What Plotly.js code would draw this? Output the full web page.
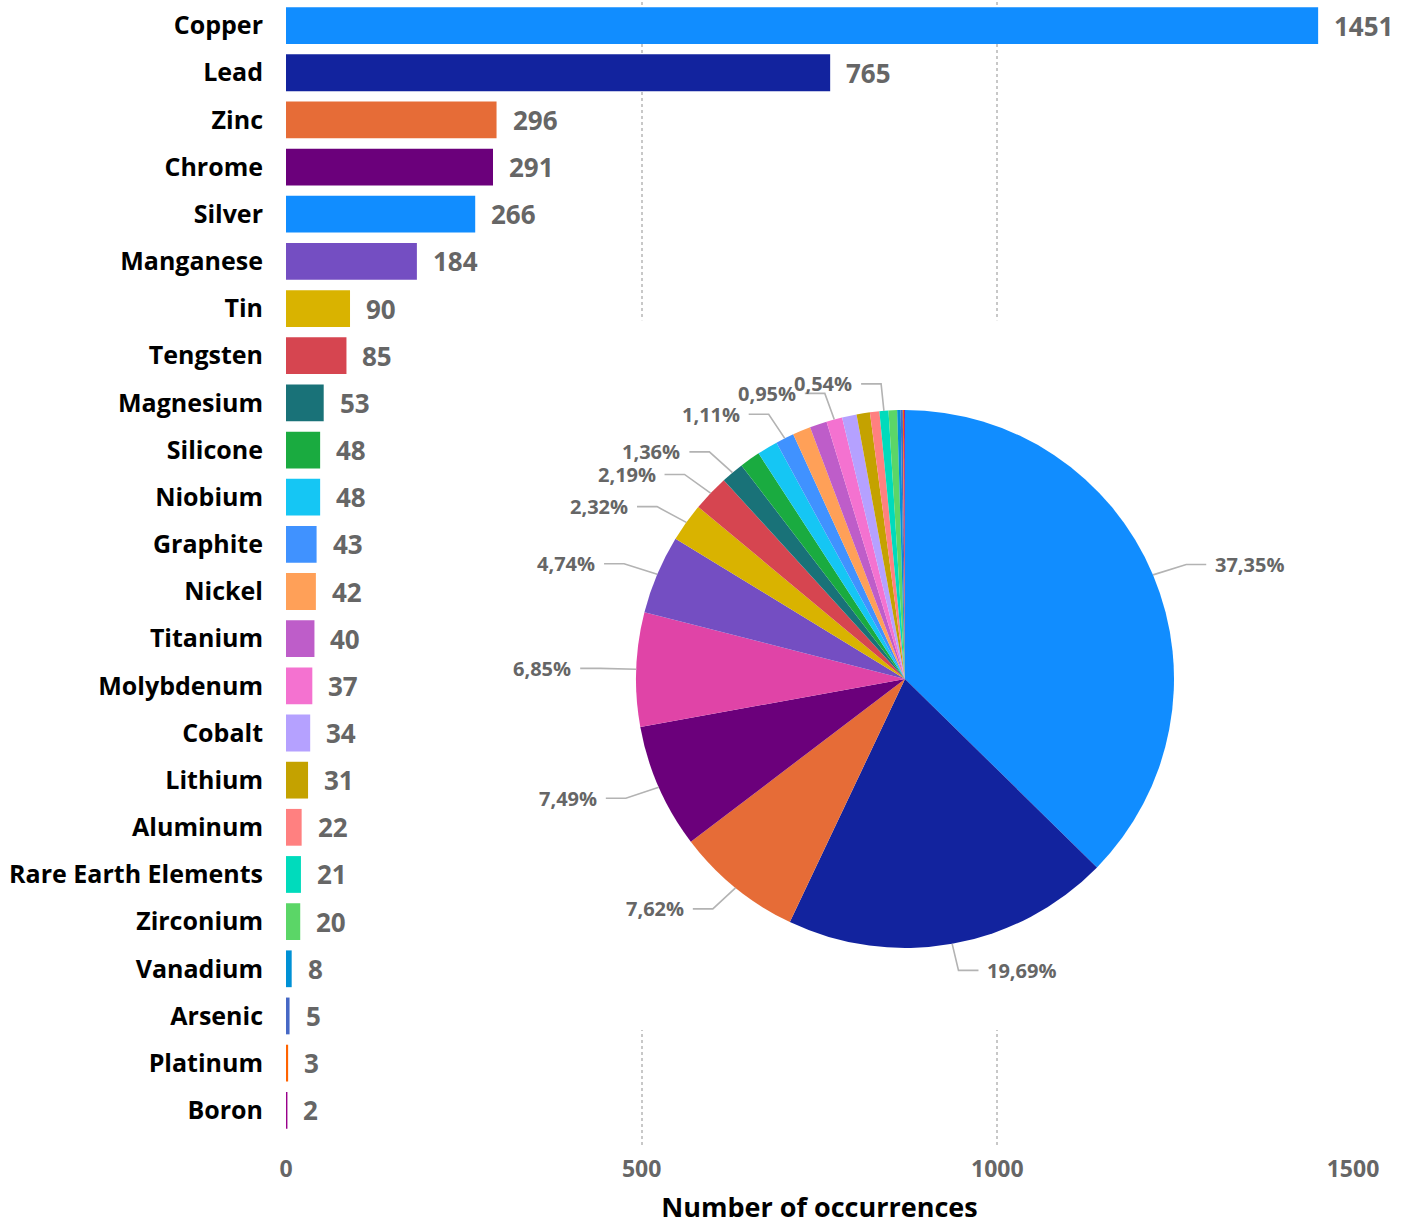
<!DOCTYPE html>
<html>
<head>
<meta charset="utf-8">
<script src="https://cdn.plot.ly/plotly-3.0.1.min.js"></script>
<style>html,body{margin:0;padding:0;background:#fff;}#chart{width:1409px;height:1225px;}</style>
</head>
<body>
<div id="chart"></div>
<script>
// ---------- data ----------
const categories = ["Copper","Lead","Zinc","Chrome","Silver","Manganese","Tin","Tengsten","Magnesium","Silicone","Niobium","Graphite","Nickel","Titanium","Molybdenum","Cobalt","Lithium","Aluminum","Rare Earth Elements","Zirconium","Vanadium","Arsenic","Platinum","Boron"];
const counts = [1451,765,296,291,266,184,90,85,53,48,48,43,42,40,37,34,31,22,21,20,8,5,3,2];
const barColors = ["#118DFF","#12239E","#E66C37","#6B007B","#118DFF","#744EC2","#D9B300","#D64550","#197278","#1AAB40","#15C6F4","#4092FF","#FFA058","#BE5DC9","#F472D0","#B5A1FF","#C4A200","#FF8080","#00DBBC","#5BD667","#0091D5","#4668C5","#FF6300","#99008A"];
const pieColors = ["#118DFF","#12239E","#E66C37","#6B007B","#E044A7","#744EC2","#D9B300","#D64550","#197278","#1AAB40","#15C6F4","#4092FF","#FFA058","#BE5DC9","#F472D0","#B5A1FF","#C4A200","#FF8080","#00DBBC","#5BD667","#0091D5","#4668C5","#FF6300","#99008A"];
const pieLabelShown = [true,true,true,true,true,true,true,true,true,false,false,true,false,false,true,false,false,false,true,false,false,false,false,false];
const xTickVals = [0,500,1000,1500];
const xTitle = "Number of occurrences";

// ---------- geometry (pixels) ----------
const W = 1409, H = 1225;
const M = {l:286, r:56, t:2, b:77};
const PW = W - M.l - M.r, PH = H - M.t - M.b;
const pie = {cx:905, cy:679, r:269};
const px2x = p => (p - M.l) / PW;
const py2y = p => 1 - (p - M.t) / PH;

const FONT = '"Open Sans", "Noto Sans", sans-serif';
const GRAY = '#666666';

// bar chart
const barTrace = {
  type:'bar', orientation:'h',
  x: counts, y: categories,
  marker:{color: barColors, line:{width:0}},
  width: 0.78,
  hoverinfo:'skip', showlegend:false
};

// pie
const pieTrace = {
  type:'pie', labels: categories, values: counts,
  sort:false, direction:'clockwise', rotation:0,
  marker:{colors: pieColors, line:{width:0}},
  textinfo:'none', hoverinfo:'skip', showlegend:false,
  domain:{x:[px2x(pie.cx - pie.r), px2x(pie.cx + pie.r)], y:[py2y(pie.cy + pie.r), py2y(pie.cy - pie.r)]}
};

const annotations = [];
const shapes = [];

// value labels next to bars
categories.forEach((c,i) => {
  annotations.push({
    xref:'x', yref:'y', x: counts[i], y: c, text: String(counts[i]),
    xanchor:'left', yanchor:'middle', xshift:14, showarrow:false,
    font:{family:FONT, size:26, color:GRAY, weight:700}
  });
});

// white panel behind the pie (hides grid lines, like the overlaid visual)
shapes.push({type:'rect', xref:'x', yref:'y', x0:230, x1:1420, y0:6.25, y1:21.3,
  fillcolor:'#ffffff', line:{width:0}, layer:'between'});

// pie labels with leader lines
const total = counts.reduce((a,b)=>a+b,0);
let cum = 0;
counts.forEach((v,i) => {
  const mid = (cum + v/2) / total;
  cum += v;
  if (!pieLabelShown[i]) return;
  const th = mid * 2 * Math.PI;
  const s = Math.sin(th), co = Math.cos(th);
  const ex = pie.cx + pie.r*s, ey = pie.cy - pie.r*co;
  const bx = pie.cx + (pie.r+36)*s, by = pie.cy - (pie.r+27)*co;
  const dir = s >= 0 ? 1 : -1;
  const hx = bx + dir*20;
  shapes.push({type:'path', xref:'paper', yref:'paper',
    path:`M${px2x(ex)},${py2y(ey)} L${px2x(bx)},${py2y(by)} L${px2x(hx)},${py2y(by)}`,
    line:{color:'#b3b3b3', width:1.6}, layer:'above'});
  annotations.push({xref:'paper', yref:'paper', x:px2x(hx + dir*7), y:py2y(by),
    text:(v/total*100).toFixed(2).replace('.', ',') + '%',
    xanchor: dir>0 ? 'left' : 'right', yanchor:'middle', showarrow:false,
    font:{family:FONT, size:20, color:GRAY, weight:700}});
});

const layout = {
  width:W, height:H,
  margin:{l:M.l, r:M.r, t:M.t, b:M.b, pad:0},
  paper_bgcolor:'#ffffff', plot_bgcolor:'#ffffff',
  bargap:0.22,
  showlegend:false,
  xaxis:{
    range:[0,1500], tickvals:xTickVals, ticktext:xTickVals.map(String),
    showgrid:true, gridcolor:'#c8c8c8', gridwidth:2, griddash:'dot',
    zeroline:false, showline:false, ticks:'',
    ticklabelstandoff:5,
    tickfont:{family:FONT, size:23, color:GRAY, weight:700},
    title:{text:xTitle, font:{family:FONT, size:27, color:'#000000', weight:700}, standoff:16},
    fixedrange:true
  },
  yaxis:{
    type:'category', range:[23.8,-0.5],
    showgrid:false, zeroline:false, showline:false, ticks:'',
    ticklabelstandoff:22,
    tickfont:{family:FONT, size:25, color:'#000000', weight:700},
    fixedrange:true
  },
  annotations, shapes
};

Plotly.newPlot('chart', [barTrace, pieTrace], layout, {staticPlot:true, displayModeBar:false});
</script>
</body>
</html>
